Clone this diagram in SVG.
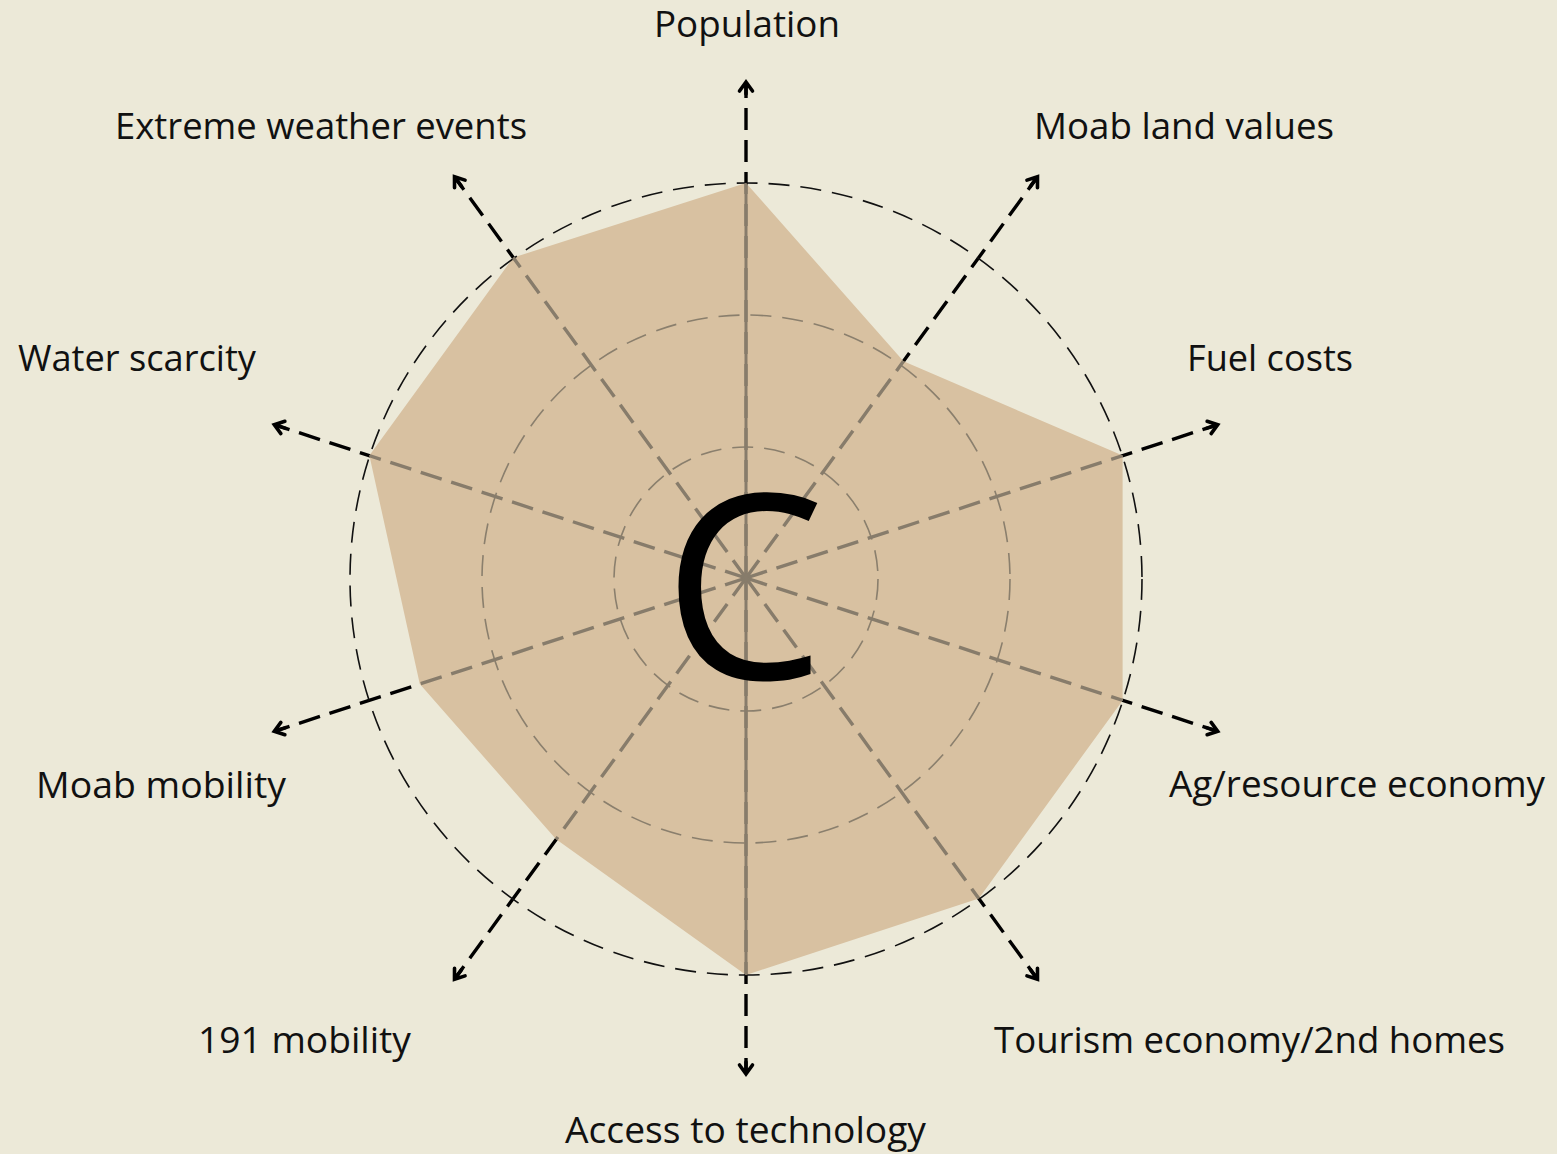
<svg xmlns="http://www.w3.org/2000/svg" xmlns:xlink="http://www.w3.org/1999/xlink" width="1557" height="1154" viewBox="0 0 1557 1154">
  <style>
    .lbl { font-family: "Open Sans", "Noto Sans", "Liberation Sans", sans-serif; font-size: 37px; fill: #111; }
    .big { font-family: "Open Sans", "Noto Sans", "Liberation Sans", sans-serif; font-size: 258px; fill: #000; }
    .ring-out { fill: none; stroke: #111; stroke-width: 1.6; stroke-dasharray: 21 11; }
    .ring-in { fill: none; stroke: #8a7f6d; stroke-width: 1.6; stroke-dasharray: 21 11; }
    .axis { stroke-width: 3.4; stroke-dasharray: 22 10; fill: none; }
  </style>
  <defs>
    <marker id="ah" markerUnits="userSpaceOnUse" markerWidth="30" markerHeight="30" viewBox="-15 -15 30 30" refX="0" refY="0" orient="auto" overflow="visible">
      <path d="M-9,-6.5 L0,0 L-9,6.5 M-12,0 L-1,0" fill="none" stroke="#000" stroke-width="3.6" stroke-linecap="round" stroke-linejoin="miter"/>
    </marker>
    <clipPath id="polyclip">
      <polygon points="746,183 903.5,361.2 1122.6,455.6 1122.6,700.4 978.8,898.4 746,975 556.1,839.3 419.8,684 369.4,455.6 513.2,257.6"/>
    </clipPath>
    <g id="axes" class="axis">
      <line x1="746" y1="578" x2="746" y2="82" marker-end="url(#ah)"/>
      <line x1="746" y1="578" x2="1037.5" y2="176.7" marker-end="url(#ah)"/>
      <line x1="746" y1="578" x2="1217.7" y2="424.7" marker-end="url(#ah)"/>
      <line x1="746" y1="578" x2="1217.7" y2="731.3" marker-end="url(#ah)"/>
      <line x1="746" y1="578" x2="1037.5" y2="979.3" marker-end="url(#ah)"/>
      <line x1="746" y1="578" x2="746" y2="1074" marker-end="url(#ah)"/>
      <line x1="746" y1="578" x2="454.5" y2="979.3" marker-end="url(#ah)"/>
      <line x1="746" y1="578" x2="274.3" y2="731.3" marker-end="url(#ah)"/>
      <line x1="746" y1="578" x2="274.3" y2="424.7" marker-end="url(#ah)"/>
      <line x1="746" y1="578" x2="454.5" y2="176.7" marker-end="url(#ah)"/>
    </g>
  </defs>

  <rect x="0" y="0" width="1557" height="1154" fill="#ece9d8"/>

  <g id="connectors">
    <use xlink:href="#axes" href="#axes" stroke="#000"/>
  </g>

  <g id="area">
    <polygon points="746,183 903.5,361.2 1122.6,455.6 1122.6,700.4 978.8,898.4 746,975 556.1,839.3 419.8,684 369.4,455.6 513.2,257.6" fill="#d8c1a1"/>
  </g>

  <g id="rings">
    <circle class="ring-in" cx="746" cy="579" r="132"/>
    <circle class="ring-in" cx="746" cy="579" r="264"/>
    <circle class="ring-out" cx="746" cy="579" r="396"/>
  </g>

  <g id="connectors-inner" clip-path="url(#polyclip)">
    <use xlink:href="#axes" href="#axes" stroke="#877c6b"/>
    <line x1="746" y1="183" x2="746" y2="975" stroke="#877c6b" stroke-width="3"/>
  </g>
  <circle cx="746" cy="578" r="4" fill="none" stroke="#877c6b" stroke-width="1.5"/>

  <g id="center-letter">
    <text class="big" x="744" y="679" text-anchor="middle">C</text>
  </g>

  <g id="node-population"><text class="lbl" x="654" y="37" textLength="186" lengthAdjust="spacingAndGlyphs">Population</text></g>
  <g id="node-moab-land"><text class="lbl" x="1034" y="139" textLength="300" lengthAdjust="spacingAndGlyphs">Moab land values</text></g>
  <g id="node-fuel"><text class="lbl" x="1187" y="371" textLength="166" lengthAdjust="spacingAndGlyphs">Fuel costs</text></g>
  <g id="node-ag"><text class="lbl" x="1169" y="797" textLength="376" lengthAdjust="spacingAndGlyphs">Ag/resource economy</text></g>
  <g id="node-tourism"><text class="lbl" x="994" y="1053" textLength="511" lengthAdjust="spacingAndGlyphs">Tourism economy/2nd homes</text></g>
  <g id="node-access"><text class="lbl" x="565" y="1143" textLength="361" lengthAdjust="spacingAndGlyphs">Access to technology</text></g>
  <g id="node-191"><text class="lbl" x="198" y="1053" textLength="213" lengthAdjust="spacingAndGlyphs">191 mobility</text></g>
  <g id="node-moab-mobility"><text class="lbl" x="36" y="798" textLength="250" lengthAdjust="spacingAndGlyphs">Moab mobility</text></g>
  <g id="node-water"><text class="lbl" x="18" y="371" textLength="238" lengthAdjust="spacingAndGlyphs">Water scarcity</text></g>
  <g id="node-extreme"><text class="lbl" x="115" y="139" textLength="412" lengthAdjust="spacingAndGlyphs">Extreme weather events</text></g>
</svg>
